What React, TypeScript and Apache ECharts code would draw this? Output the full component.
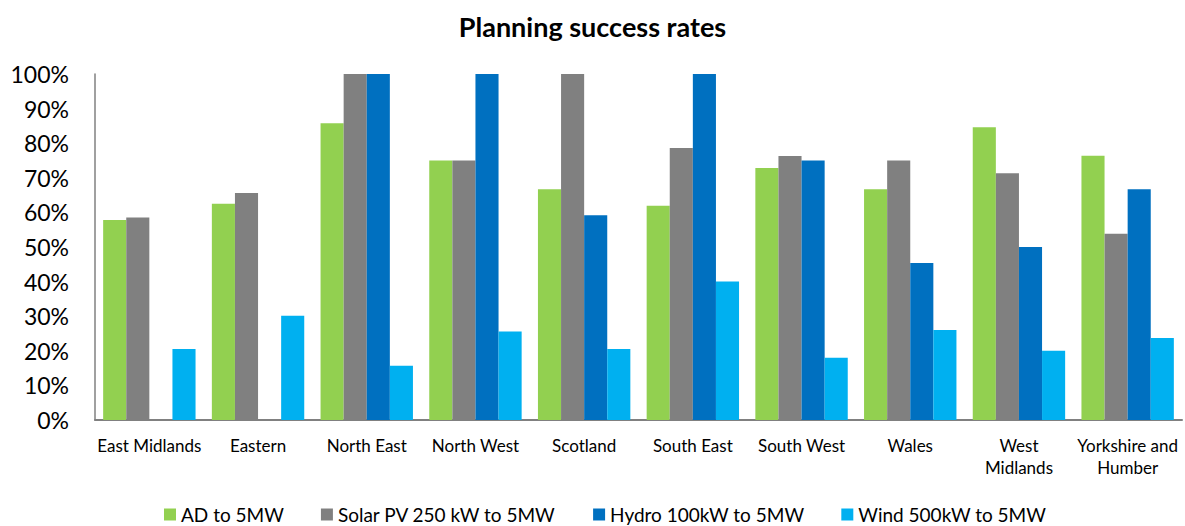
import React, { useEffect, useRef } from "react";
import * as echarts from "echarts";

const categories = [
  "East Midlands",
  "Eastern",
  "North East",
  "North West",
  "Scotland",
  "South East",
  "South West",
  "Wales",
  "West\nMidlands",
  "Yorkshire and\nHumber",
];

const adValues = [57.8, 62.5, 85.8, 75, 66.7, 61.9, 72.8, 66.7, 84.6, 76.4];
const solarValues = [58.5, 65.6, 100, 75, 100, 78.6, 76.3, 75, 71.3, 53.8];
const hydroValues: (number | null)[] = [null, null, 100, 100, 59.2, 100, 75, 45.4, 50, 66.7];
const windValues = [20.5, 30.1, 15.7, 25.6, 20.5, 40, 18, 26, 20, 23.7];

const seriesNames = [
  "AD to 5MW",
  "Solar PV 250 kW to 5MW",
  "Hydro 100kW to 5MW",
  "Wind 500kW to 5MW",
];
const seriesColors = ["#92D050", "#808080", "#0070C0", "#00B0F0"];

const FONT = "Lato, 'Open Sans', sans-serif";

export default function App() {
  const ref = useRef<HTMLDivElement>(null);

  useEffect(() => {
    document.body.style.margin = "0";
    if (!ref.current) return;
    const chart = echarts.init(ref.current, undefined, { renderer: "svg" });
    const data = [adValues, solarValues, hydroValues, windValues];
    chart.setOption({
      animation: false,
      backgroundColor: "#ffffff",
      title: {
        text: "Planning success rates",
        left: "center",
        top: 8,
        textStyle: { fontFamily: FONT, fontWeight: "bold", fontSize: 27, color: "#000" },
      },
      legend: {
        bottom: -3,
        left: 159,
        itemWidth: 12,
        itemHeight: 12,
        itemGap: 37,
        icon: "rect",
        textStyle: { fontFamily: FONT, fontSize: 19, color: "#000" },
        data: seriesNames,
      },
      grid: { left: 95, right: 3, top: 74, bottom: 106 },
      xAxis: {
        type: "category",
        data: categories,
        axisLine: { lineStyle: { color: "#808080", width: 2 } },
        axisTick: { show: false },
        axisLabel: {
          interval: 0,
          fontFamily: FONT,
          fontSize: 17,
          lineHeight: 22,
          color: "#000",
          margin: 14,
        },
      },
      yAxis: {
        type: "value",
        min: 0,
        max: 100,
        interval: 10,
        axisLine: { show: true, lineStyle: { color: "#808080", width: 1.5 } },
        axisTick: { show: false },
        splitLine: { show: false },
        axisLabel: {
          formatter: "{value}%",
          fontFamily: FONT,
          fontSize: 23,
          color: "#000",
          margin: 26,
        },
      },
      series: seriesNames.map((name, i) => ({
        name,
        type: "bar",
        data: data[i],
        barGap: "0%",
        barCategoryGap: "15%",
        itemStyle: { color: seriesColors[i] },
      })),
    });
    return () => chart.dispose();
  }, []);

  return <div ref={ref} style={{ width: 1185, height: 526 }} />;
}
